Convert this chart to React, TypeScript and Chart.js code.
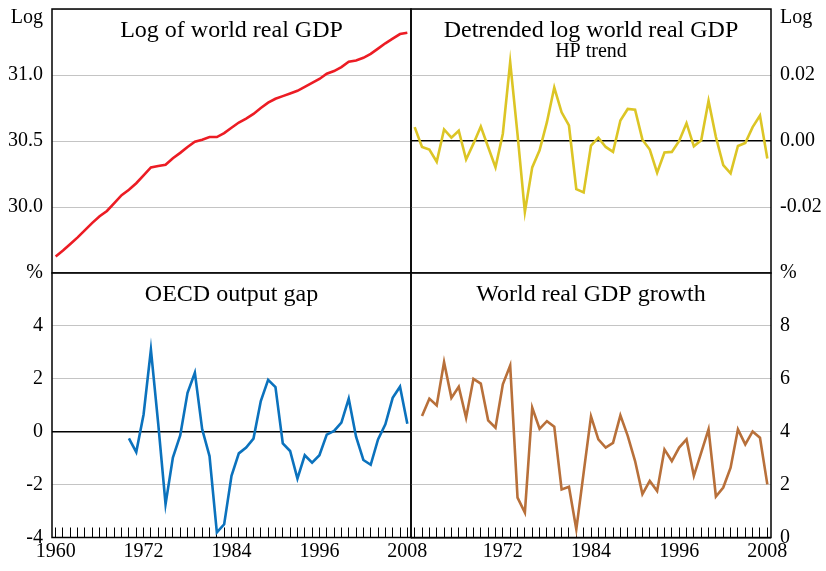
import React, { useEffect, useRef } from 'react';
import { Chart, registerables } from 'chart.js';

Chart.register(...registerables);

const years = [
  '1960', '1961', '1962', '1963', '1964', '1965', '1966', '1967', '1968', '1969',
  '1970', '1971', '1972', '1973', '1974', '1975', '1976', '1977', '1978', '1979',
  '1980', '1981', '1982', '1983', '1984', '1985', '1986', '1987', '1988', '1989',
  '1990', '1991', '1992', '1993', '1994', '1995', '1996', '1997', '1998', '1999',
  '2000', '2001', '2002', '2003', '2004', '2005', '2006', '2007', '2008',
];

const xTickLabelsLeft = ['1960', '1972', '1984', '1996', '2008'];
const xTickLabelsRight = ['1972', '1984', '1996', '2008'];

const logGdp = [
  29.625, 29.67, 29.72, 29.77, 29.825, 29.88, 29.93, 29.97, 30.03, 30.09,
  30.13, 30.18, 30.24, 30.3, 30.31, 30.32, 30.37, 30.41, 30.455, 30.495,
  30.51, 30.53, 30.53, 30.56, 30.6, 30.64, 30.67, 30.705, 30.75, 30.79,
  30.82, 30.84, 30.86, 30.88, 30.91, 30.94, 30.97, 31.01, 31.03, 31.06,
  31.1, 31.11, 31.13, 31.16, 31.2, 31.24, 31.275, 31.31, 31.32,
];

const detrended = [
  0.0042, -0.0018, -0.0026, -0.0063, 0.0035, 0.001, 0.0031, -0.0056, -0.0008, 0.0044,
  -0.0018, -0.008, 0.0022, 0.0239, 0.002, -0.0215, -0.008, -0.0028, 0.0057, 0.0162,
  0.0087, 0.0047, -0.0146, -0.0156, -0.0014, 0.001, -0.0018, -0.0033, 0.0062, 0.0097,
  0.0095, 0.0004, -0.0026, -0.0096, -0.0035, -0.0033, 0.0, 0.0054, -0.0016, 0.0002,
  0.0122, 0.0012, -0.0073, -0.0098, -0.0015, -0.0006, 0.0042, 0.0077, -0.0053,
];

const outputGap = [
  null, null, null, null, null, null, null, null, null, null,
  -0.25, -0.77, 0.65, 3.1, 0.3, -2.74, -0.98, -0.14, 1.47, 2.23,
  0.09, -0.92, -3.81, -3.5, -1.67, -0.82, -0.6, -0.26, 1.16, 1.96,
  1.69, -0.44, -0.73, -1.77, -0.89, -1.17, -0.89, -0.11, 0.03, 0.34,
  1.25, -0.19, -1.07, -1.25, -0.29, 0.28, 1.28, 1.7, 0.3,
];

const growth = [
  null, 4.59, 5.25, 4.99, 6.63, 5.28, 5.7, 4.53, 6.0, 5.82,
  4.43, 4.15, 5.79, 6.5, 1.51, 0.94, 4.91, 4.11, 4.4, 4.19,
  1.82, 1.92, 0.31, 2.45, 4.58, 3.71, 3.4, 3.58, 4.62, 3.84,
  2.89, 1.64, 2.14, 1.76, 3.33, 2.89, 3.4, 3.71, 2.33, 3.21,
  4.09, 1.55, 1.89, 2.64, 4.09, 3.52, 4.01, 3.77, 2.01,
];

const logTicks = [30.0, 30.5, 31.0];
const detrendTicks = [-0.02, 0.0, 0.02];
const gapTicks = [-4, -2, 0, 2, 4];
const growthTicks = [0, 2, 4, 6, 8];

const FONT = "'Liberation Serif', 'Times New Roman', Times, serif";

const panelPlugin = {
  id: 'panelDeco',
  afterDraw(chart: any, _args: any, opts: any) {
    const { ctx, chartArea: a } = chart;
    ctx.save();
    ctx.strokeStyle = '#000';
    ctx.lineWidth = 1.5;
    ctx.strokeRect(a.left, a.top, a.right - a.left, a.bottom - a.top);
    ctx.fillStyle = '#000';
    ctx.textAlign = 'center';
    ctx.textBaseline = 'alphabetic';
    const cx = (a.left + a.right) / 2;
    ctx.font = `24px ${FONT}`;
    if (opts.title) ctx.fillText(opts.title, cx, a.top + 27.7);
    if (opts.subtitle) {
      ctx.font = `20px ${FONT}`;
      ctx.fillText(opts.subtitle, cx, a.top + 48.3);
    }
    ctx.restore();
  },
};

type PanelOpts = {
  data: (number | null)[];
  color: string;
  left: boolean;
  top: boolean;
  yMin: number;
  yMax: number;
  yStep: number;
  shown: number[];
  digits: number;
  unit: string;
  title: string;
  subtitle?: string;
  xLabels: string[];
};

function buildConfig(p: PanelOpts): any {
  const near = (a: number, b: number) => Math.abs(a - b) < 1e-9;
  return {
    type: 'line',
    data: {
      labels: years,
      datasets: [
        {
          data: p.data,
          borderColor: p.color,
          borderWidth: 2.6,
          pointRadius: 0,
          tension: 0,
          fill: false,
          spanGaps: false,
        },
      ],
    },
    plugins: [panelPlugin],
    options: {
      animation: false,
      responsive: false,
      devicePixelRatio: 1,
      layout: {
        padding: {
          left: p.left ? 0 : 411,
          right: p.left ? 415 : 0,
          top: p.top ? 9 : 273,
          bottom: p.top ? 298 : 0,
        },
      },
      plugins: {
        legend: { display: false },
        tooltip: { enabled: false },
        panelDeco: { title: p.title, subtitle: p.subtitle },
      },
      scales: {
        x: {
          type: 'category',
          display: !p.top,
          offset: true,
          border: { display: false },
          grid: {
            display: true,
            drawOnChartArea: false,
            drawTicks: true,
            tickLength: -10,
            color: '#000',
            lineWidth: 1,
          },
          ticks: {
            autoSkip: false,
            maxRotation: 0,
            minRotation: 0,
            padding: 12,
            color: '#000',
            font: { family: FONT, size: 20 },
            callback: (_v: any, i: number) =>
              p.xLabels.includes(years[i]) ? years[i] : '',
          },
          afterFit: (s: any) => {
            if (!p.top) s.height = 33.5;
            s.paddingLeft = 0;
            s.paddingRight = 0;
          },
        },
        y: {
          type: 'linear',
          position: p.left ? 'left' : 'right',
          min: p.yMin,
          max: p.yMax,
          border: { display: false },
          grid: {
            drawTicks: false,
            color: (c: any) =>
              c.tick && near(c.tick.value, 0) ? '#000' : '#c4c4c4',
            lineWidth: (c: any) => (c.tick && near(c.tick.value, 0) ? 1.6 : 1),
          },
          ticks: {
            stepSize: p.yStep,
            padding: 9,
            color: '#000',
            font: { family: FONT, size: 20, lineHeight: 0.9 },
            callback: (v: number) => {
              if (near(v, p.yMax)) return p.top ? ['', p.unit] : p.unit;
              const hit = p.shown.find((t) => near(t, v));
              return hit === undefined ? '' : v.toFixed(p.digits);
            },
          },
          afterFit: (s: any) => {
            s.width = p.left ? 52 : 55;
            s.paddingTop = 0;
            s.paddingBottom = 0;
          },
        },
      },
    },
  };
}

const panels: PanelOpts[] = [
  {
    data: logGdp, color: '#ec1c24', left: true, top: true,
    yMin: 29.5, yMax: 31.5, yStep: 0.5, shown: logTicks, digits: 1,
    unit: 'Log', title: 'Log of world real GDP', xLabels: xTickLabelsLeft,
  },
  {
    data: detrended, color: '#dcc525', left: false, top: true,
    yMin: -0.04, yMax: 0.04, yStep: 0.02, shown: detrendTicks, digits: 2,
    unit: 'Log', title: 'Detrended log world real GDP', subtitle: 'HP trend',
    xLabels: xTickLabelsRight,
  },
  {
    data: outputGap, color: '#0b72bd', left: true, top: false,
    yMin: -4, yMax: 6, yStep: 2, shown: gapTicks, digits: 0,
    unit: '%', title: 'OECD output gap', xLabels: xTickLabelsLeft,
  },
  {
    data: growth, color: '#b8703a', left: false, top: false,
    yMin: 0, yMax: 10, yStep: 2, shown: growthTicks, digits: 0,
    unit: '%', title: 'World real GDP growth', xLabels: xTickLabelsRight,
  },
];

export default function App() {
  const refs = [
    useRef<HTMLCanvasElement>(null),
    useRef<HTMLCanvasElement>(null),
    useRef<HTMLCanvasElement>(null),
    useRef<HTMLCanvasElement>(null),
  ];

  useEffect(() => {
    const charts = panels.map(
      (p, i) => new Chart(refs[i].current as HTMLCanvasElement, buildConfig(p)),
    );
    return () => charts.forEach((c) => c.destroy());
  }, []);

  return (
    <div
      style={{
        position: 'absolute',
        left: 0,
        top: 0,
        width: 826,
        height: 571,
        background: '#fff',
        overflow: 'hidden',
      }}
    >
      {refs.map((r, i) => (
        <canvas
          key={i}
          ref={r}
          width={826}
          height={571}
          style={{ position: 'absolute', left: 0, top: 0, width: 826, height: 571 }}
        />
      ))}
    </div>
  );
}
